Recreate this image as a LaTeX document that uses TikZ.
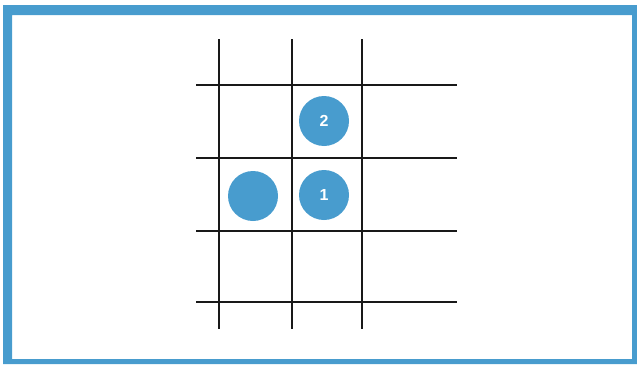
\documentclass[tikz,border=0pt]{standalone}
\usepackage{fontspec}
\setsansfont{Liberation Sans}
\usetikzlibrary{positioning}

\definecolor{stoneblue}{RGB}{72,156,206}

\begin{document}
\begin{tikzpicture}[
        x=1pt, y=-1pt,
        gridline/.style={draw=black!90, line width=1.5pt},
        stone/.style={
            circle,
            fill=stoneblue,
            minimum size=50pt,
            inner sep=0pt,
            text=white,
            font=\sffamily\bfseries\fontsize{16}{18}\selectfont
        }
    ]

    \useasboundingbox (0,0) rectangle (637,364);

    % frame
    \fill[stoneblue, even odd rule]
        (3,5) rectangle (637,364)
        (12,15) rectangle (632,359);

    % board
    \foreach \gx in {219,292,362}
        \draw[gridline] (\gx,39) -- (\gx,329);
    \foreach \gy in {85,158,231,302}
        \draw[gridline] (196,\gy) -- (457,\gy);

    \node[stone] (stonetwo)  at (324,121) {2};
    \node[stone] (stoneone)  at (324,195) {1};
    \node[stone] (stoneleft) at (253,196) {};

\end{tikzpicture}
\end{document}
